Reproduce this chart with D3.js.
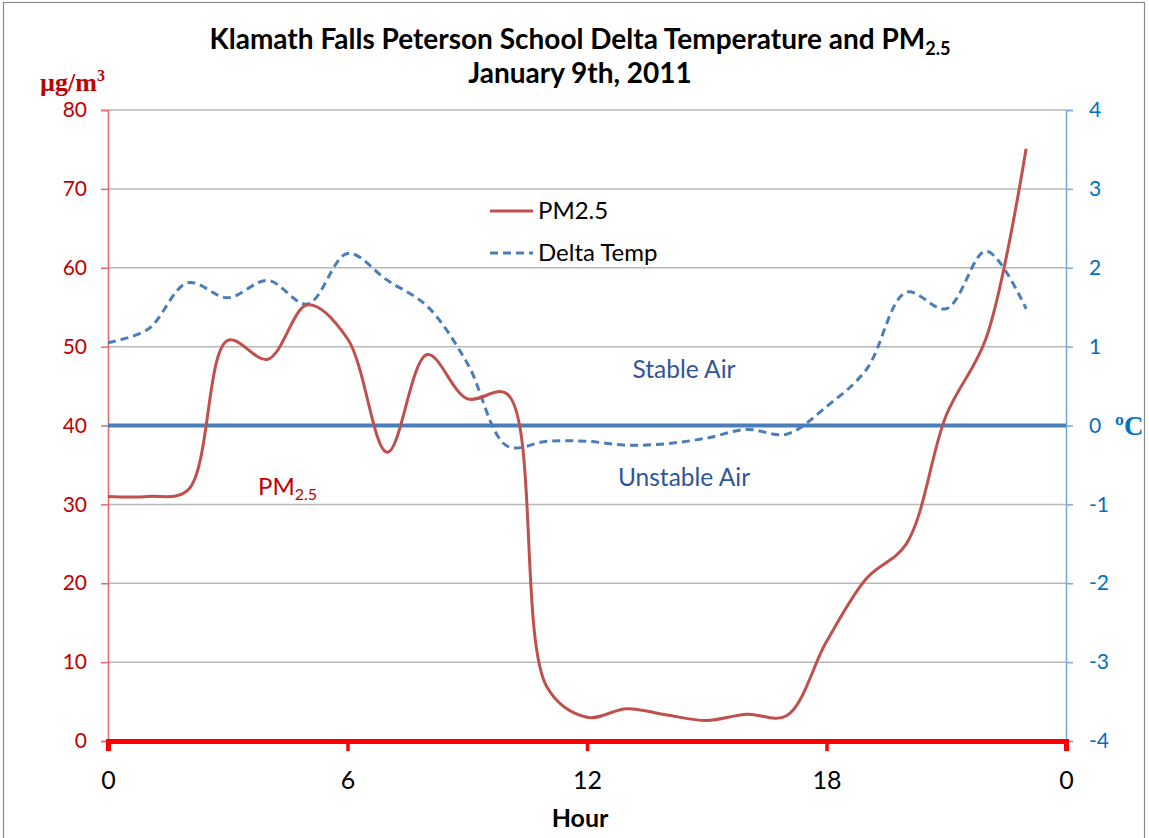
<!DOCTYPE html>
<html>
<head>
<meta charset="utf-8">
<script src="https://cdn.jsdelivr.net/npm/d3@7"></script>
<style>
  html, body { margin: 0; padding: 0; background: #fff; }
  svg { display: block; }
</style>
</head>
<body>
<svg id="chart" width="1149" height="838"></svg>
<script>
// Hourly readings, January 9th, 2011
const hours = [0,1,2,3,4,5,6,7,8,9,10,11,12,13,14,15,16,17,18,19,20,21,22,23];
const pm25 = [31.0, 31.0, 31.8, 50.8, 48.4, 55.3, 51.0, 36.6, 49.0, 43.4, 44.0, 6.8,
              3.0, 4.1, 3.3, 2.6, 3.4, 3.2, 12.6, 20.6, 25.0, 41.3, 51.1, 75.1];
const deltaTemp = [1.05, 1.22, 1.81, 1.62, 1.84, 1.54, 2.18, 1.84, 1.51, 0.79, -0.26, -0.2,
                   -0.2, -0.25, -0.23, -0.16, -0.05, -0.11, 0.24, 0.71, 1.69, 1.48, 2.21, 1.48];
const pmTicks = [0, 10, 20, 30, 40, 50, 60, 70, 80];
const tempTicks = [-4, -3, -2, -1, 0, 1, 2, 3, 4];
const hourTicks = [0, 6, 12, 18, 24];
const hourLabels = ["0", "6", "12", "18", "0"];

const svg = d3.select("#chart");
const plot = { left: 108, right: 1066, top: 110, bottom: 741 };
const sansFont = "Lato, 'Open Sans', sans-serif";
const serifFont = "'Liberation Serif', 'DejaVu Serif', serif";

const x = d3.scaleLinear().domain([0, 24]).range([plot.left, plot.right]);
const yPM = d3.scaleLinear().domain([0, 80]).range([plot.bottom, plot.top]);
const yT = d3.scaleLinear().domain([-4, 4]).range([plot.bottom, plot.top]);

// chart frame
svg.append("rect")
  .attr("x", 3.5).attr("y", 2.5).attr("width", 1141).attr("height", 860)
  .attr("fill", "#fff").attr("stroke", "#8a8a8a").attr("stroke-width", 1.2);

// horizontal gridlines
svg.append("g").selectAll("line")
  .data(pmTicks.filter(d => d > 0))
  .join("line")
  .attr("x1", plot.left).attr("x2", plot.right)
  .attr("y1", d => yPM(d)).attr("y2", d => yPM(d))
  .attr("stroke", "#b8b8b8").attr("stroke-width", 1.5);

// left axis (PM2.5)
const leftAxis = svg.append("g")
  .attr("transform", `translate(${plot.left},0)`)
  .call(d3.axisLeft(yPM).tickValues(pmTicks).tickSize(7).tickPadding(14));
leftAxis.select(".domain").attr("stroke", "#e06a6a").attr("stroke-width", 1.5);
leftAxis.selectAll(".tick line").attr("stroke", "#e06a6a").attr("stroke-width", 1.5);
leftAxis.selectAll(".tick text")
  .attr("fill", "#c00000").attr("font-family", sansFont).attr("font-size", 21);

// right axis (Delta Temp)
const rightAxis = svg.append("g")
  .attr("transform", `translate(${plot.right},0)`)
  .call(d3.axisRight(yT).tickValues(tempTicks).tickSize(7).tickPadding(16)
    .tickFormat(d => d < 0 ? "-" + Math.abs(d) : String(d)));
rightAxis.select(".domain").attr("stroke", "#74a9d8").attr("stroke-width", 1.5);
rightAxis.selectAll(".tick line").attr("stroke", "#74a9d8").attr("stroke-width", 1.5);
rightAxis.selectAll(".tick text")
  .attr("fill", "#0070c0").attr("font-family", sansFont).attr("font-size", 21);

// bottom axis (hour)
const bottomAxis = svg.append("g")
  .attr("transform", `translate(0,${plot.bottom})`)
  .call(d3.axisBottom(x).tickValues(hourTicks).tickSize(10).tickPadding(20)
    .tickFormat((d, i) => hourLabels[i]));
bottomAxis.select(".domain").attr("stroke", "#ff0000").attr("stroke-width", 5);
bottomAxis.selectAll(".tick line").attr("stroke", "#ff0000").attr("stroke-width", 3.5);
bottomAxis.selectAll(".tick text")
  .attr("fill", "#000").attr("font-family", sansFont).attr("font-size", 25);

// stability boundary at 0 °C
svg.append("line")
  .attr("x1", plot.left).attr("x2", plot.right)
  .attr("y1", yT(0)).attr("y2", yT(0))
  .attr("stroke", "#4a7ebb").attr("stroke-width", 4);

const pmLine = d3.line()
  .x((d, i) => x(hours[i])).y(d => yPM(d))
  .curve(d3.curveCatmullRom.alpha(0.5));
const tLine = d3.line()
  .x((d, i) => x(hours[i])).y(d => yT(d))
  .curve(d3.curveCatmullRom.alpha(0.5));

svg.append("path").datum(deltaTemp)
  .attr("d", tLine).attr("fill", "none")
  .attr("stroke", "#4a7ebb").attr("stroke-width", 3)
  .attr("stroke-dasharray", "8,5");

svg.append("path").datum(pm25)
  .attr("d", pmLine).attr("fill", "none")
  .attr("stroke", "#c0504d").attr("stroke-width", 3);

// legend
const legend = svg.append("g").attr("font-family", sansFont).attr("font-size", 24);
legend.append("line").attr("x1", 490).attr("x2", 533).attr("y1", 211).attr("y2", 211)
  .attr("stroke", "#c0504d").attr("stroke-width", 3);
legend.append("text").attr("x", 538).attr("y", 211).attr("dy", "0.35em")
  .attr("fill", "#000").text("PM2.5");
legend.append("line").attr("x1", 490).attr("x2", 533).attr("y1", 253).attr("y2", 253)
  .attr("stroke", "#4a7ebb").attr("stroke-width", 3).attr("stroke-dasharray", "8,5");
legend.append("text").attr("x", 538).attr("y", 253).attr("dy", "0.35em")
  .attr("fill", "#000").text("Delta Temp");

// annotations
svg.append("text").attr("x", 684).attr("y", 378).attr("text-anchor", "middle")
  .attr("font-family", sansFont).attr("font-size", 24.5).attr("fill", "#2f5597")
  .text("Stable Air");
svg.append("text").attr("x", 684).attr("y", 486).attr("text-anchor", "middle")
  .attr("font-family", sansFont).attr("font-size", 24.5).attr("fill", "#2f5597")
  .text("Unstable Air");

const pmLabel = svg.append("text").attr("x", 258).attr("y", 495)
  .attr("font-family", sansFont).attr("font-size", 24).attr("fill", "#c00000");
pmLabel.append("tspan").text("PM");
pmLabel.append("tspan").attr("font-size", 16).attr("dy", 5).text("2.5");

// title
const title = svg.append("g").attr("font-family", sansFont).attr("font-weight", "bold")
  .attr("font-size", 28).attr("fill", "#000").attr("text-anchor", "middle");
const t1 = title.append("text").attr("x", 580).attr("y", 49);
t1.append("tspan").text("Klamath Falls Peterson School Delta Temperature and PM");
t1.append("tspan").attr("font-size", 18).attr("dy", 6).text("2.5");
title.append("text").attr("x", 580).attr("y", 83).text("January 9th, 2011");

// axis unit labels
const unitL = svg.append("text").attr("x", 40).attr("y", 91)
  .attr("font-family", serifFont).attr("font-weight", "bold").attr("font-size", 26)
  .attr("fill", "#c00000");
unitL.append("tspan").text("\u00b5g/m");
unitL.append("tspan").attr("font-size", 16).attr("dy", -10).text("3");

svg.append("text").attr("x", 1115).attr("y", 435)
  .attr("font-family", serifFont).attr("font-weight", "bold").attr("font-size", 27)
  .attr("fill", "#0070c0").text("\u00baC");

// x axis title
svg.append("text").attr("x", 580).attr("y", 827).attr("text-anchor", "middle")
  .attr("font-family", sansFont).attr("font-weight", "bold").attr("font-size", 25)
  .attr("fill", "#000").text("Hour");
</script>
</body>
</html>
